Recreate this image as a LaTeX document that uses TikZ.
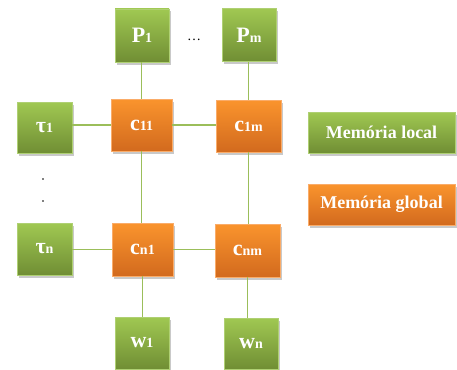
\documentclass[tikz,border=0pt]{standalone}
\usepackage{fontspec}
\setmainfont{Liberation Serif}
\usetikzlibrary{shadows}
\definecolor{gtop}{RGB}{160,200,82}
\definecolor{gbot}{RGB}{112,142,52}
\definecolor{gbord}{RGB}{175,208,115}
\definecolor{otop}{RGB}{250,148,45}
\definecolor{obot}{RGB}{210,106,30}
\definecolor{obord}{RGB}{250,172,105}
\definecolor{lnk}{RGB}{155,190,90}
\newcommand{\smallsub}[1]{{\fontsize{14}{14}\selectfont #1}}
\tikzset{
  boxbase/.style={rectangle, inner sep=0pt, line width=0.8pt, text=white,
    font=\bfseries\fontsize{22}{22}\selectfont,
    drop shadow={shadow xshift=1.5pt, shadow yshift=-2.5pt, opacity=0.3, fill=black!70}},
  gbox/.style={boxbase, draw=gbord, top color=gtop, bottom color=gbot},
  obox/.style={boxbase, draw=obord, top color=otop, bottom color=obot},
  lbox/.style={minimum width=147pt, minimum height=41pt, font=\bfseries\fontsize{18}{18}\selectfont},
  link/.style={draw=lnk, line width=1.2pt}
}
\begin{document}
\begin{tikzpicture}[x=1pt,y=-1pt]
\useasboundingbox (0,0) rectangle (457,369);
\node[gbox, minimum width=54pt, minimum height=53pt] (P1) at (142,35.5) {P\smallsub{1}};
\node[gbox, minimum width=54pt, minimum height=53pt] (Pm) at (249,35) {P\smallsub{m}};
\node[font=\fontsize{14}{14}\selectfont] (dots) at (194,40) {\ldots};
\node[obox, minimum width=61pt, minimum height=52pt] (c11) at (141.5,125) {c\smallsub{11}};
\node[obox, minimum width=65pt, minimum height=52pt] (c1m) at (248.5,126) {c\smallsub{1m}};
\node[gbox, minimum width=55pt, minimum height=51pt] (t1) at (44.5,127.5) {τ\smallsub{1}};
\node[gbox, minimum width=55pt, minimum height=52pt] (tn) at (44.5,249) {τ\smallsub{n}};
\node[obox, minimum width=61pt, minimum height=53pt] (cn1) at (142.5,249.5) {c\smallsub{n1}};
\node[obox, minimum width=65pt, minimum height=53pt] (cnm) at (247.5,250.5) {c\smallsub{nm}};
\node[gbox, minimum width=54pt, minimum height=52pt] (w1) at (142,343) {w\smallsub{1}};
\node[gbox, minimum width=54pt, minimum height=51pt] (wn) at (251,343.5) {w\smallsub{n}};
\node[gbox, lbox] (ml) at (381.5,132.5) {Memória local};
\node[obox, lbox] (mg) at (381.5,204.5) {Memória global};
\fill[black] (43,179) circle (0.8pt);
\fill[black] (43,201) circle (0.8pt);
\draw[link] (c11.north) -- (c11.north |- P1.south);
\draw[link] (c1m.north) -- (c1m.north |- Pm.south);
\draw[link] (c11.south) -- (c11.south |- cn1.north);
\draw[link] (c1m.south) -- (c1m.south |- cnm.north);
\draw[link] (cn1.south) -- (cn1.south |- w1.north);
\draw[link] (cnm.south) -- (cnm.south |- wn.north);
\draw[link] (t1.east |- c11.west) -- (c11.west);
\draw[link] (c11.east) -- (c11.east -| c1m.west);
\draw[link] (tn.east |- cn1.west) -- (cn1.west);
\draw[link] (cn1.east) -- (cn1.east -| cnm.west);
\end{tikzpicture}
\end{document}
